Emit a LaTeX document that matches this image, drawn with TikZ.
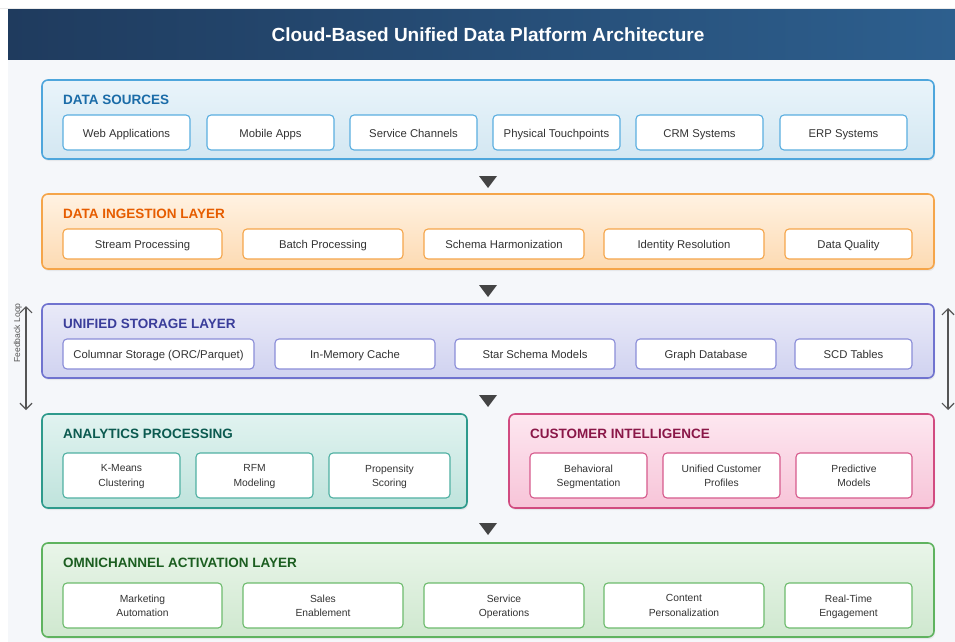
\documentclass[tikz,border=0pt]{standalone}
\usepackage{fontspec}
\setmainfont{Liberation Sans}
\usetikzlibrary{arrows.meta,shadows}
\definecolor{bgc}{HTML}{F5F7FA}
\definecolor{tbL}{HTML}{1F3B5E}
\definecolor{tbR}{HTML}{2D5F8E}
\definecolor{txt}{HTML}{333333}
\definecolor{arrc}{HTML}{444444}
\definecolor{fbc}{HTML}{555555}
% data sources
\definecolor{dsT}{HTML}{E9F4FA}\definecolor{dsBo}{HTML}{D3E7F2}\definecolor{dsB}{HTML}{4EA6DC}\definecolor{dsTi}{HTML}{1B6CA8}\definecolor{dsI}{HTML}{5AAEE0}
% ingestion
\definecolor{inT}{HTML}{FFF2E2}\definecolor{inBo}{HTML}{FDDAB2}\definecolor{inB}{HTML}{F5A54A}\definecolor{inTi}{HTML}{E65C00}\definecolor{inI}{HTML}{F5A54A}
% storage
\definecolor{stT}{HTML}{E9EAF8}\definecolor{stBo}{HTML}{D0D2F0}\definecolor{stB}{HTML}{7073CF}\definecolor{stTi}{HTML}{3A3D9A}\definecolor{stI}{HTML}{8A8DD8}
% analytics
\definecolor{anT}{HTML}{E1F3F0}\definecolor{anBo}{HTML}{BFE3DC}\definecolor{anB}{HTML}{2E9A8C}\definecolor{anTi}{HTML}{0B5A50}\definecolor{anI}{HTML}{4FB0A2}
% customer
\definecolor{cuT}{HTML}{FDE7F0}\definecolor{cuBo}{HTML}{F7C4D8}\definecolor{cuB}{HTML}{D14B80}\definecolor{cuTi}{HTML}{8A1748}\definecolor{cuI}{HTML}{D65A8C}
% omni
\definecolor{omT}{HTML}{E9F5E9}\definecolor{omBo}{HTML}{CFE8CF}\definecolor{omB}{HTML}{5FB35F}\definecolor{omTi}{HTML}{1B5E20}\definecolor{omI}{HTML}{6DBB6D}
\newcommand{\mybox}[7]{\node[#1, minimum width={#4-#2}, minimum height={#5-#3}] (#6) at ({(#2+#4)/2},{(#3+#5)/2}) {#7};}
\begin{document}
\begin{tikzpicture}[x=1pt,y=-1pt,
  layer/.style={draw, rounded corners=6pt, line width=1.6pt, inner sep=0pt, outer sep=0pt,
    drop shadow={opacity=0.12, shadow xshift=1pt, shadow yshift=-2pt}},
  itembase/.style={draw, fill=white, rounded corners=4pt, line width=1.1pt, inner sep=0pt, outer sep=0pt,
    text=txt, align=center},
  item/.style={itembase, font=\fontsize{11.3}{13}\selectfont, text height=10pt, text depth=0.9pt},
  item2/.style={itembase, font=\fontsize{10.3}{14.3}\selectfont, text depth=0pt},
  ltitle/.style={anchor=west, inner sep=0pt, font=\fontsize{13.5}{16}\selectfont\bfseries},
  downtri/.style={fill=arrc},
  fbarrow/.style={draw=fbc, line width=1.2pt, {Straight Barb[length=6pt,width=12pt]}-{Straight Barb[length=6pt,width=12pt]}}
]
\useasboundingbox (0,0) rectangle (955,642);
\fill[white] (0,0) rectangle (955,642);
\fill[bgc] (8,60) rectangle (955,642);
\draw[line width=0.6pt, color=black!8] (0,8.5) -- (955,8.5);
\shade[left color=tbL, right color=tbR] (8,10) rectangle (955,60);
\node[text=white, font=\fontsize{19}{22}\selectfont\bfseries] (title) at (488,35) {Cloud-Based Unified Data Platform Architecture};

% ---------- DATA SOURCES
\mybox{layer, draw=dsB, top color=dsT, bottom color=dsBo}{42}{80}{934}{159}{ds}{}
\node[ltitle, text=dsTi] (dst) at (63,100) {DATA SOURCES};
\mybox{item, draw=dsI}{63}{115}{190}{150}{ds1}{Web Applications}
\mybox{item, draw=dsI}{207}{115}{334}{150}{ds2}{Mobile Apps}
\mybox{item, draw=dsI}{350}{115}{477}{150}{ds3}{Service Channels}
\mybox{item, draw=dsI}{493}{115}{620}{150}{ds4}{Physical Touchpoints}
\mybox{item, draw=dsI}{636}{115}{763}{150}{ds5}{CRM Systems}
\mybox{item, draw=dsI}{780}{115}{907}{150}{ds6}{ERP Systems}

\fill[downtri] (479,176) -- (497,176) -- (488,188) -- cycle;

% ---------- INGESTION
\mybox{layer, draw=inB, top color=inT, bottom color=inBo}{42}{194}{934}{269}{in}{}
\node[ltitle, text=inTi] (int) at (63,214) {DATA INGESTION LAYER};
\mybox{item, draw=inI}{63}{229}{222}{259}{in1}{Stream Processing}
\mybox{item, draw=inI}{243}{229}{403}{259}{in2}{Batch Processing}
\mybox{item, draw=inI}{424}{229}{584}{259}{in3}{Schema Harmonization}
\mybox{item, draw=inI}{604}{229}{764}{259}{in4}{Identity Resolution}
\mybox{item, draw=inI}{785}{229}{912}{259}{in5}{Data Quality}

\fill[downtri] (479,285) -- (497,285) -- (488,297) -- cycle;

% ---------- STORAGE
\mybox{layer, draw=stB, top color=stT, bottom color=stBo}{42}{304}{934}{378}{st}{}
\node[ltitle, text=stTi] (stt) at (63,324) {UNIFIED STORAGE LAYER};
\mybox{item, draw=stI}{63}{339}{254}{369}{st1}{Columnar Storage (ORC/Parquet)}
\mybox{item, draw=stI}{275}{339}{435}{369}{st2}{In-Memory Cache}
\mybox{item, draw=stI}{455}{339}{615}{369}{st3}{Star Schema Models}
\mybox{item, draw=stI}{636}{339}{776}{369}{st4}{Graph Database}
\mybox{item, draw=stI}{795}{339}{912}{369}{st5}{SCD Tables}

\fill[downtri] (479,395) -- (497,395) -- (488,407) -- cycle;

% ---------- ANALYTICS
\mybox{layer, draw=anB, top color=anT, bottom color=anBo}{42}{414}{467}{508}{an}{}
\node[ltitle, text=anTi] (ant) at (63,434) {ANALYTICS PROCESSING};
\mybox{item2, draw=anI}{63}{453}{180}{498}{an1}{K-Means\\Clustering}
\mybox{item2, draw=anI}{196}{453}{313}{498}{an2}{RFM\\Modeling}
\mybox{item2, draw=anI}{329}{453}{450}{498}{an3}{Propensity\\Scoring}

% ---------- CUSTOMER
\mybox{layer, draw=cuB, top color=cuT, bottom color=cuBo}{509}{414}{934}{508}{cu}{}
\node[ltitle, text=cuTi] (cut) at (530,434) {CUSTOMER INTELLIGENCE};
\mybox{item2, draw=cuI}{530}{453}{647}{498}{cu1}{Behavioral\\Segmentation}
\mybox{item2, draw=cuI}{663}{453}{780}{498}{cu2}{Unified Customer\\Profiles}
\mybox{item2, draw=cuI}{796}{453}{912}{498}{cu3}{Predictive\\Models}

\fill[downtri] (479,523) -- (497,523) -- (488,535) -- cycle;

% ---------- OMNICHANNEL
\mybox{layer, draw=omB, top color=omT, bottom color=omBo}{42}{543}{934}{637}{om}{}
\node[ltitle, text=omTi] (omt) at (63,563) {OMNICHANNEL ACTIVATION LAYER};
\mybox{item2, draw=omI}{63}{583}{222}{628}{om1}{Marketing\\Automation}
\mybox{item2, draw=omI}{243}{583}{403}{628}{om2}{Sales\\Enablement}
\mybox{item2, draw=omI}{424}{583}{584}{628}{om3}{Service\\Operations}
\mybox{item2, draw=omI}{604}{583}{764}{628}{om4}{Content\\Personalization}
\mybox{item2, draw=omI}{785}{583}{912}{628}{om5}{Real-Time\\Engagement}

% ---------- FEEDBACK LOOPS
\coordinate (fl1) at (26,306);
\coordinate (fl2) at (26,410);
\draw[fbarrow] (fl1) -- (fl2);
\node[rotate=90, text=fbc, inner sep=0pt, font=\fontsize{8.6}{10}\selectfont] (flt) at (18,333) {Feedback Loop};
\coordinate (fr1) at (948,308);
\coordinate (fr2) at (948,410);
\draw[fbarrow] (fr1) -- (fr2);
\end{tikzpicture}
\end{document}
